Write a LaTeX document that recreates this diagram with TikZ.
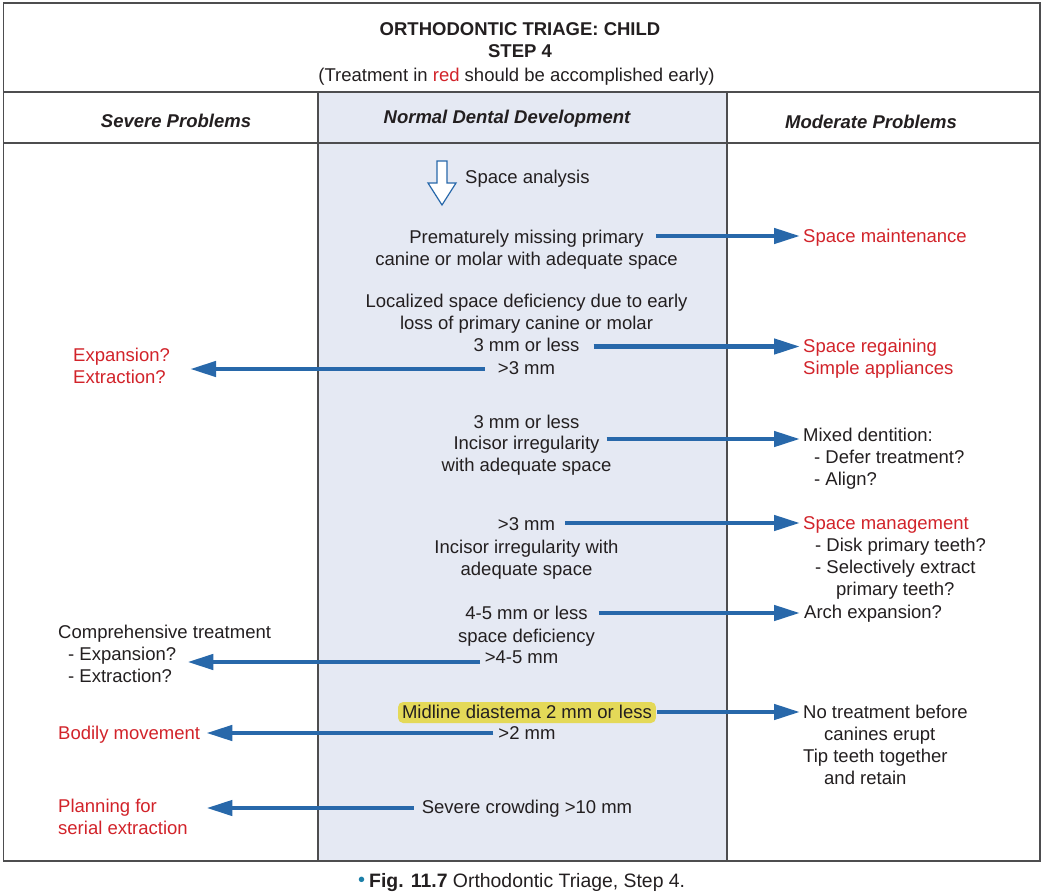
\documentclass[tikz,border=0pt]{standalone}
\usepackage{fontspec}
\setmainfont{Liberation Sans}
\usetikzlibrary{arrows.meta,calc}
\definecolor{ink}{HTML}{231F20}
\definecolor{redtxt}{HTML}{D2232A}
\definecolor{arrblue}{HTML}{2868AA}
\definecolor{colfill}{HTML}{E5E9F3}
\definecolor{hilite}{HTML}{E4D958}
\definecolor{framec}{HTML}{4D4D4F}
\definecolor{capblue}{HTML}{1B7FA8}
\newcommand\bodyfont{\fontsize{18.5}{22}\selectfont}
\begin{document}
\begin{tikzpicture}[x=1pt,y=-1pt,
  every node/.style={inner sep=0pt, text=ink, font=\bodyfont},
  ctr/.style={anchor=base, align=center},
  lft/.style={anchor=base west, align=left},
  redt/.style={text=redtxt},
  hdr/.style={anchor=base, font={\bodyfont\bfseries\itshape}},
  hl/.style={anchor=base, fill=hilite, rounded corners=5pt, inner xsep=4pt, inner ysep=0pt, text height=16.5pt, text depth=4.5pt},
  arr/.style={draw=arrblue, line width=4.5pt, -{Triangle[length=26pt,width=15pt]}},
  frame/.style={draw=framec, line width=1.5pt}]
\useasboundingbox (0,0) rectangle (1044,894);
\fill[white] (0,0) rectangle (1044,894);
\fill[colfill] (318,92) rectangle (727,861);
\draw[frame] (3.5,3) rectangle (1040,861);
\draw[frame] (3.5,92) -- (1040,92);
\draw[frame, line width=1.2pt] (3.5,143) -- (1040,143);
\draw[frame] (318,92) -- (318,861) (727,92) -- (727,861);

% title (multi-line nodes: base = last line)
\node[ctr, font={\bodyfont\bfseries}] (title) at (520,57) {ORTHODONTIC TRIAGE: CHILD\\STEP 4};
\node[ctr] (sub) at (516.5,81) {(Treatment in \textcolor{redtxt}{red} should be accomplished early)};

% headers
\node[hdr] (sev) at (176,127.5) {Severe Problems};
\node[hdr] (norm) at (507,123.5) {Normal Dental Development};
\node[hdr] (mod) at (871,128) {Moderate Problems};

% hollow arrow
\draw[draw=arrblue, line width=1.2pt, fill=white] (437,161) -- (447,161) -- (447,183) -- (456,183) -- (442,205) -- (428,183) -- (437,183) -- cycle;
\node[lft] (sa) at (465,183.5) {Space analysis};

% centre column
\node[ctr] (c1a) at (526.5,243.5) {Prematurely missing primary};
\node[ctr] (c1b) at (526.5,265.5) {canine or molar with adequate space};
\node[ctr] (c2) at (526.5,329.5) {Localized space deficiency due to early\\loss of primary canine or molar};
\node[ctr] (c3) at (526.5,351.5) {3 mm or less};
\node[ctr] (c4) at (526.5,374.5) {>3 mm};
\node[ctr] (c5) at (526.5,428.5) {3 mm or less};
\node[ctr] (c6) at (526.5,449.5) {Incisor irregularity};
\node[ctr] (c7) at (526.5,471.5) {with adequate space};
\node[ctr] (c8) at (526.5,530.5) {>3 mm};
\node[ctr] (c9) at (526.5,575.5) {Incisor irregularity with\\adequate space};
\node[ctr] (c10) at (526.5,619.5) {4-5 mm or less};
\node[ctr] (c11) at (526.5,642.5) {space deficiency};
\node[ctr] (c12) at (521.5,663.5) {>4-5 mm};
\node[hl] (c13) at (527,718.5) {Midline diastema 2 mm or less};
\node[ctr] (c14) at (527,739.5) {>2 mm};
\node[ctr] (c15) at (527,813.5) {Severe crowding >10 mm};

% right column
\node[lft, redt] (r1) at (803,242.5) {Space maintenance};
\node[lft, redt] (r2) at (803,374.5) {Space regaining\\Simple appliances};
\node[lft] (r3) at (803,485.5) {Mixed dentition:\\\hspace*{11pt}- Defer treatment?\\\hspace*{11pt}- Align?};
\node[lft] (r4) at (803,595) {\textcolor{redtxt}{Space management}\\\hspace*{12pt}- Disk primary teeth?\\\hspace*{12pt}- Selectively extract\\\hspace*{33pt}primary teeth?};
\node[lft] (r5) at (804,618.5) {Arch expansion?};
\node[lft] (r6) at (803,784) {No treatment before\\\hspace*{21pt}canines erupt\\Tip teeth together\\\hspace*{21pt}and retain};

% left column
\node[lft, redt] (l1) at (73,383.5) {Expansion?\\Extraction?};
\node[lft] (l2a) at (58,638.5) {Comprehensive treatment};
\node[lft] (l2b) at (68,660.5) {- Expansion?};
\node[lft] (l2c) at (68,682.5) {- Extraction?};
\node[lft, redt] (l3) at (58,739.5) {Bodily movement};
\node[lft, redt] (l4) at (58,834) {Planning for\\serial extraction};

% right arrows
\coordinate (s1) at ($(c1a.base east)+(12,-7.5)$);
\draw[arr, shorten >=3pt] (s1) -- (s1 -| r1.west);
\coordinate (s3) at ($(c3.base east)+(14,-5)$);
\draw[arr, shorten >=3pt] (s3) -- (s3 -| r2.west);
\coordinate (s6) at ($(c6.base east)+(7,-10.5)$);
\draw[arr, shorten >=3pt] (s6) -- (s6 -| r3.west);
\coordinate (s8) at ($(c8.base east)+(10,-7.5)$);
\draw[arr, shorten >=3pt] (s8) -- (s8 -| r4.west);
\coordinate (s10) at ($(c10.base east)+(11,-6.5)$);
\draw[arr, shorten >=4pt] (s10) -- (s10 -| r5.west);
\coordinate (s13) at ($(c13.base east)+(1,-6.5)$);
\draw[arr, shorten >=3pt] (s13) -- (s13 -| r6.west);

% left arrows
\coordinate (s4) at ($(c4.base west)+(-13,-5.5)$);
\draw[arr, shorten >=20pt] (s4) -- (s4 -| l1.east);
\coordinate (s12) at ($(c12.base west)+(-5,-1.5)$);
\draw[arr, shorten >=11pt] (s12) -- (s12 -| l2b.east);
\coordinate (s14) at ($(c14.base west)+(-5,-6.5)$);
\draw[arr, shorten >=6pt] (s14) -- (s14 -| l3.east);
\coordinate (s15) at ($(c15.base west)+(-8,-5.5)$);
\draw[arr, shorten >=18.5pt] (s15) -- (s15 -| l4.east);

% caption
\node[anchor=base west, text=capblue, font=\fontsize{20}{22}\selectfont] (bul) at (358,886) {•};
\node[anchor=base west, font=\fontsize{19.4}{22}\selectfont] (cap) at (369,887) {\textbf{Fig. 11.7} Orthodontic Triage, Step 4.};
\end{tikzpicture}
\end{document}
